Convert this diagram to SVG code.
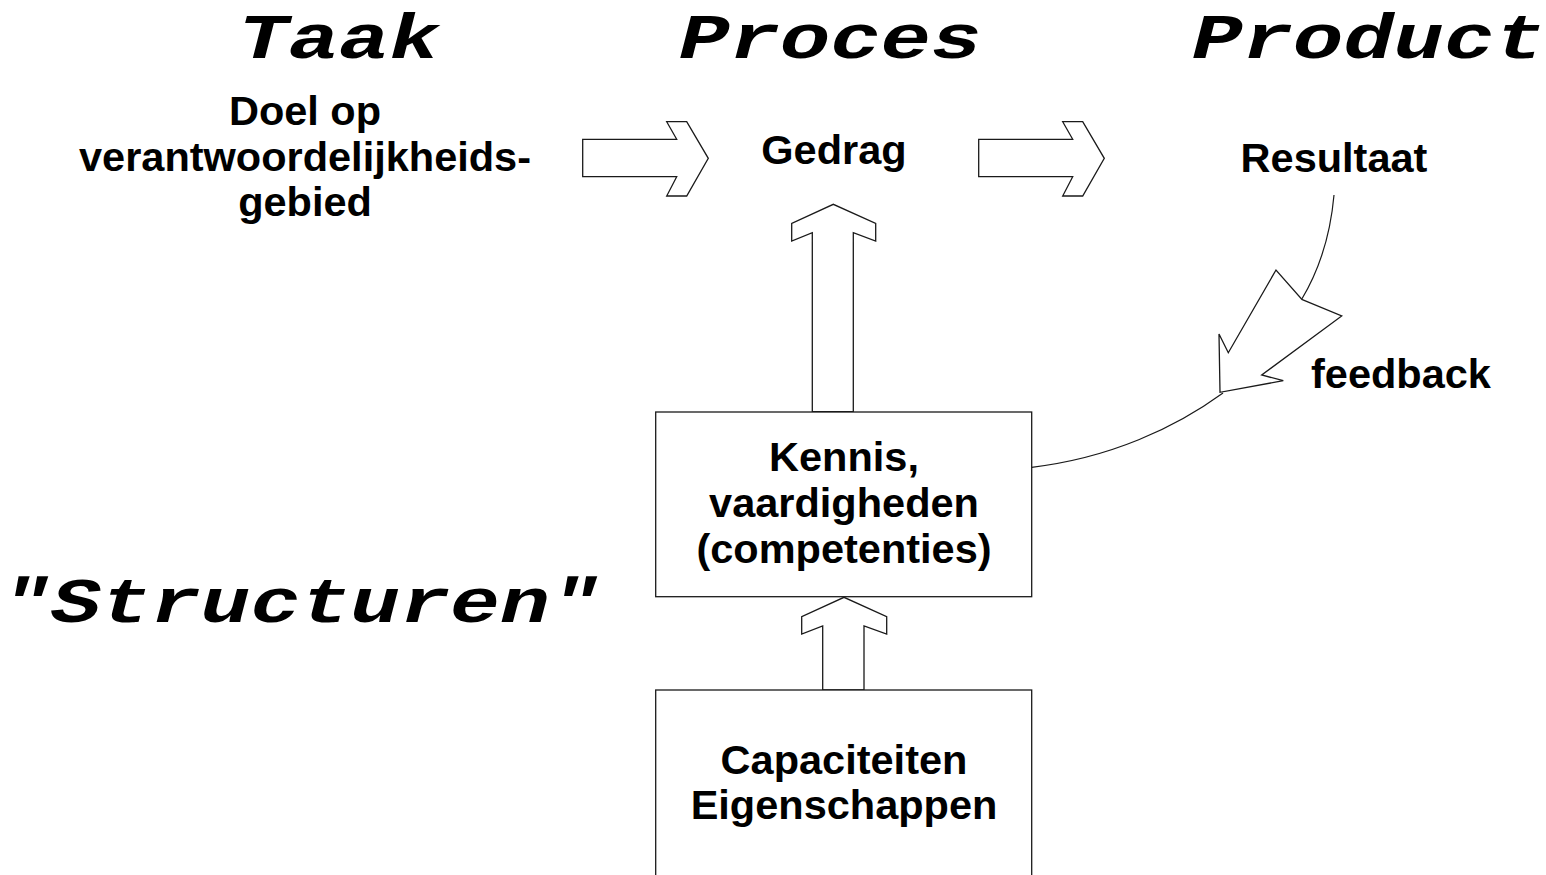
<svg xmlns="http://www.w3.org/2000/svg" width="1546" height="875" viewBox="0 0 1546 875">
<style>
.shape{fill:#fff;stroke:#1a1a1a;stroke-width:1.3;stroke-linejoin:miter}
.line{fill:none;stroke:#1a1a1a;stroke-width:1.2}
.t{font-family:"Liberation Sans",Arial,sans-serif;font-weight:bold;font-size:41.5px;fill:#000;text-anchor:middle}
.h{font-family:"Liberation Mono","Courier New",monospace;font-weight:bold;font-style:italic;font-size:84px;fill:#000}
</style>
<rect width="1546" height="875" fill="#fff"/>
<g id="titles">
<text class="h" transform="translate(238,58) scale(1,0.75)">Taak</text>
<text class="h" transform="translate(679,58) scale(1,0.75)">Proces</text>
<text class="h" transform="translate(1192,58) scale(1,0.75)">Product</text>
<text class="h" transform="translate(1,622) scale(0.99,0.75)">"Structuren"</text>
</g>
<g id="connectors">
<polygon class="shape" points="582.7,139.3 676.7,139.3 666.7,121.7 686.7,121.7 708.3,158.3 686.7,196 666.7,196 676.7,176.7 582.7,176.7"/>
<polygon class="shape" points="978.7,139.3 1072.7,139.3 1062.7,121.7 1082.7,121.7 1104.3,158.3 1082.7,196 1062.7,196 1072.7,176.7 978.7,176.7"/>
<polygon class="shape" points="812.3,411.7 812.3,232.7 791.7,241 791.7,223.3 833.3,204.3 875.7,223.3 875.7,241 853.3,232.7 853.3,411.7"/>
<polygon class="shape" points="822.7,690 822.7,626 801.7,634 801.7,616.7 844,597.3 886.7,616.7 886.7,634 864,626 864,690"/>
<path class="line" d="M1334,195 C1330,240 1318,272 1301.7,299.3"/>
<polygon class="shape" points="1301.7,299.3 1341.7,316 1261.7,375 1283.3,380.7 1220,392.3 1219,334 1228.3,352.7 1276,270"/>
<path class="line" d="M1223,393 C1175,428 1110,458 1031.7,467.3"/>
</g>
<g id="taak">
<text class="t" x="305" y="125">Doel op</text>
<text class="t" x="305" y="171">verantwoordelijkheids-</text>
<text class="t" x="305" y="216">gebied</text>
</g>
<g id="gedrag">
<text class="t" x="834" y="164">Gedrag</text>
</g>
<g id="resultaat">
<text class="t" x="1334" y="172">Resultaat</text>
</g>
<g id="feedback">
<text class="t" x="1401" y="388">feedback</text>
</g>
<g id="kennis">
<rect class="shape" x="655.7" y="412" width="376" height="184.7"/>
<text class="t" x="844" y="471">Kennis,</text>
<text class="t" x="844" y="517">vaardigheden</text>
<text class="t" x="844" y="563">(competenties)</text>
</g>
<g id="capaciteiten">
<rect class="shape" x="655.7" y="690" width="376" height="200"/>
<text class="t" x="844" y="774">Capaciteiten</text>
<text class="t" x="844" y="819">Eigenschappen</text>
</g>
</svg>
